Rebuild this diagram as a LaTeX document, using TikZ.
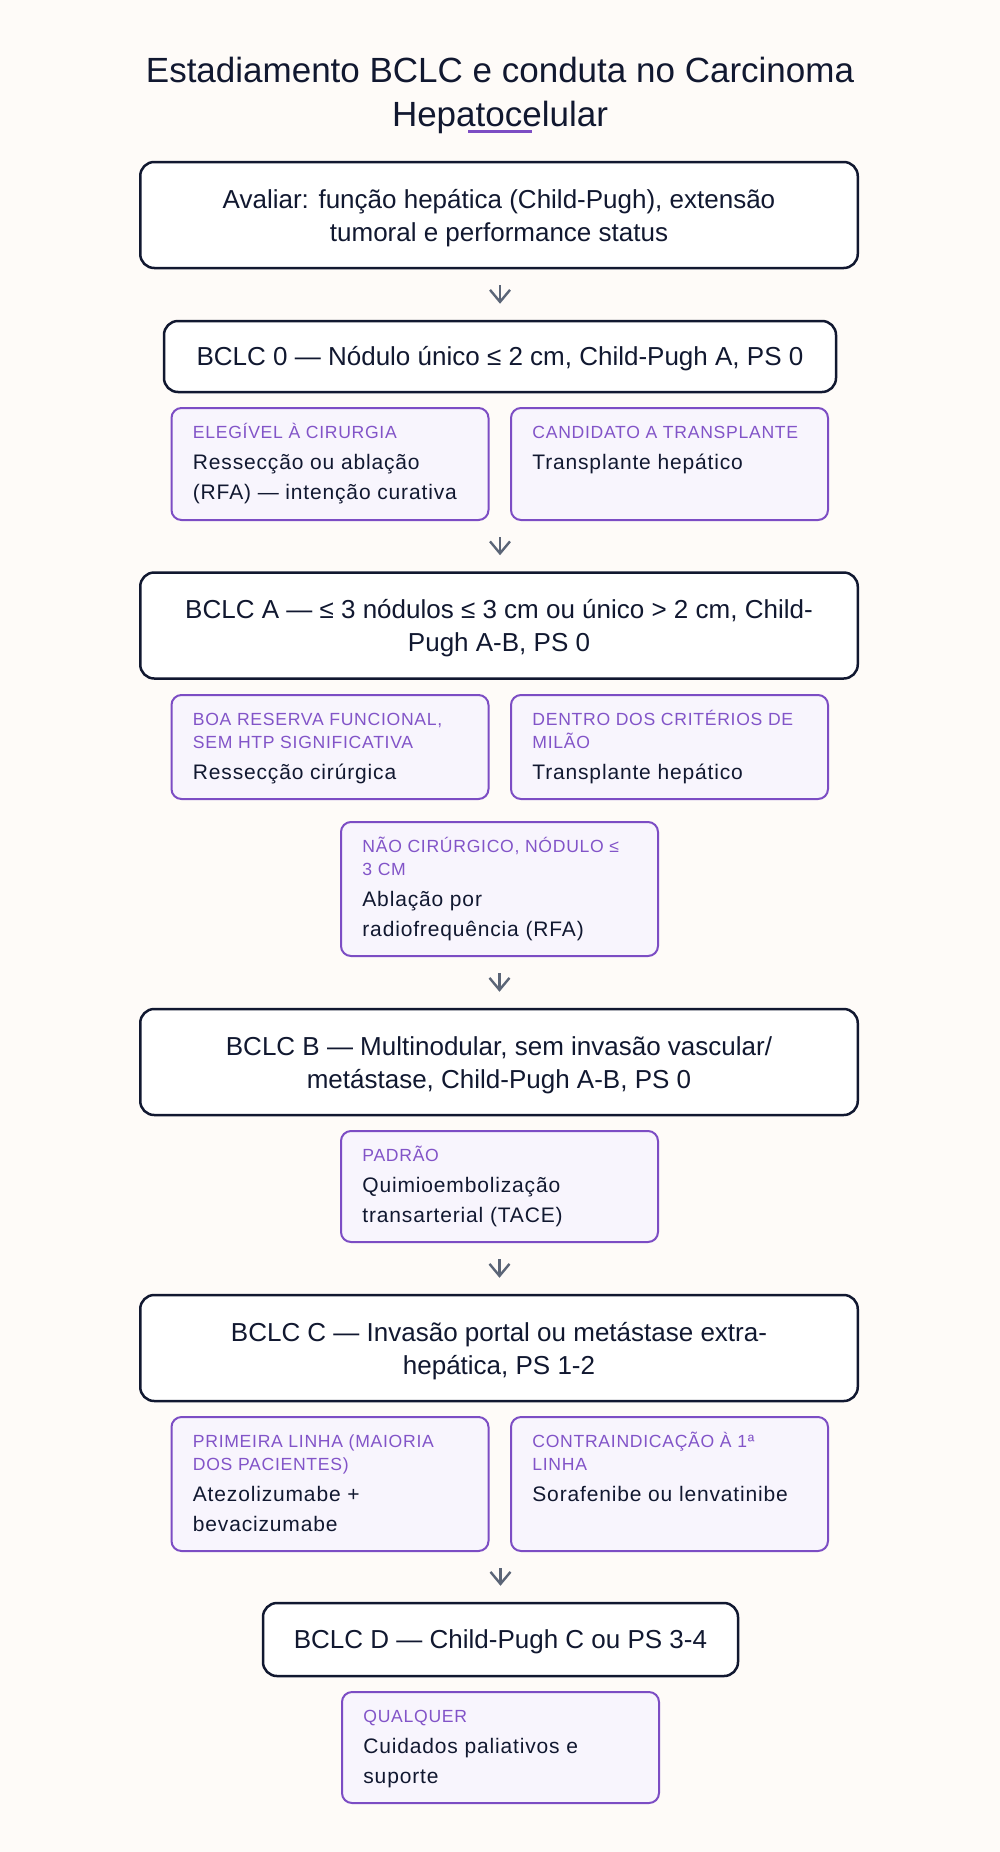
\documentclass[tikz,border=0pt]{standalone}
\usepackage{fontspec}
\setmainfont{Liberation Sans}
\newfontfamily\labelfamily{Liberation Sans}[LetterSpace=4]
\usetikzlibrary{arrows.meta}
\definecolor{bgc}{RGB}{254,251,248}
\definecolor{navy}{RGB}{17,24,48}
\definecolor{purp}{RGB}{124,77,196}
\definecolor{purptext}{RGB}{130,84,200}
\definecolor{lav}{RGB}{248,245,253}
\definecolor{agray}{RGB}{91,101,119}
\newcommand\mainfnt{\fontsize{13}{16.5}\selectfont}
\newcommand\lblfnt{\labelfamily\fontsize{8.8}{11.5}\selectfont\color{purptext}}
\newcommand\cntfnt{\fontsize{10.5}{14.75}\selectfont\color{navy}}
\newcommand\subtxt[2]{\parbox[t]{150pt}{\raggedright\leavevmode\lblfnt #1\par\vspace{0.75pt}\leavevmode\cntfnt #2\par}}
\tikzset{
  mainbox/.style={draw=navy, line width=1.25pt, fill=white, rounded corners=7pt,
    minimum width=358.75pt, minimum height=53pt, inner sep=0pt},
  maintext/.style={align=center, font=\mainfnt, text=navy, inner sep=0pt},
  subbox/.style={draw=purp, line width=1pt, fill=lav, rounded corners=5pt,
    minimum width=158.5pt, inner sep=0pt},
  subtext/.style={anchor=base west, inner sep=0pt},
  arr/.style={draw=agray, line width=1.2pt, -{Straight Barb[length=6pt,width=10pt]},
    shorten <=8pt, shorten >=8pt}
}
\begin{document}
\begin{tikzpicture}[x=0.5pt,y=-0.5pt]
\useasboundingbox (0,0) rectangle (1000,1852);
\fill[bgc] (0,0) rectangle (1000,1852);
% title
\node[anchor=base, inner sep=0pt, text=navy, font=\fontsize{17.5}{22}\selectfont] (title) at (500,82)
  {\parbox[t]{420pt}{\centering\leavevmode Estadiamento BCLC e conduta no Carcinoma\\Hepatocelular}};
\draw[purp, line width=1.5pt] (468,131) -- (532,131);
% main boxes
\node[mainbox] (b1) at (499,215) {};
\node[mainbox, minimum width=336pt, minimum height=35.5pt] (b0) at (500,356.5) {};
\node[mainbox] (bA) at (499,625.5) {};
\node[mainbox] (bB) at (499,1062) {};
\node[mainbox] (bC) at (499,1348) {};
\node[mainbox, minimum width=237.5pt, minimum height=36.5pt] (bD) at (500.5,1639.5) {};
\node[maintext] (b1t) at ([yshift=-1.5pt]b1.center) {Avaliar: função hepática (Child-Pugh), extensão\\tumoral e performance status};
\node[maintext] (b0t) at ([yshift=-1.2pt]b0.center) {BCLC 0 — Nódulo único ≤ 2 cm, Child-Pugh A, PS 0};
\node[maintext] (bAt) at ([yshift=-1.5pt]bA.center) {BCLC A — ≤ 3 nódulos ≤ 3 cm ou único > 2 cm, Child-\\Pugh A-B, PS 0};
\node[maintext] (bBt) at ([yshift=-1.5pt]bB.center) {BCLC B — Multinodular, sem invasão vascular/\\metástase, Child-Pugh A-B, PS 0};
\node[maintext] (bCt) at ([yshift=-1.5pt]bC.center) {BCLC C — Invasão portal ou metástase extra-\\hepática, PS 1-2};
\node[maintext] (bDt) at ([yshift=-1.2pt]bD.center) {BCLC D — Child-Pugh C ou PS 3-4};
% sub boxes
\node[subbox, minimum height=56pt] (s0l) at (330,464) {};
\node[subbox, minimum height=56pt] (s0r) at (669.5,464) {};
\node[subbox, minimum height=52pt] (sAl) at (330,747) {};
\node[subbox, minimum height=52pt] (sAr) at (669.5,747) {};
\node[subbox, minimum height=67pt] (sAc) at (499.5,889) {};
\node[subbox, minimum height=55.5pt] (sB) at (499.5,1186.5) {};
\node[subbox, minimum height=67pt] (sCl) at (330,1484) {};
\node[subbox, minimum height=67pt] (sCr) at (669.5,1484) {};
\node[subbox, minimum height=55.5pt] (sD) at (500.5,1747.5) {};
% sub texts
\node[subtext] (t0l) at ([xshift=11pt,yshift=-15.75pt]s0l.north west) {\subtxt{ELEGÍVEL À CIRURGIA}{Ressecção ou ablação\\(RFA) — intenção curativa}};
\node[subtext] (t0r) at ([xshift=11pt,yshift=-15.75pt]s0r.north west) {\subtxt{CANDIDATO A TRANSPLANTE}{Transplante hepático}};
\node[subtext] (tAl) at ([xshift=11pt,yshift=-15.75pt]sAl.north west) {\subtxt{BOA RESERVA FUNCIONAL,\\SEM HTP SIGNIFICATIVA}{Ressecção cirúrgica}};
\node[subtext] (tAr) at ([xshift=11pt,yshift=-15.75pt]sAr.north west) {\subtxt{DENTRO DOS CRITÉRIOS DE\\MILÃO}{Transplante hepático}};
\node[subtext] (tAc) at ([xshift=11pt,yshift=-15.75pt]sAc.north west) {\subtxt{NÃO CIRÚRGICO, NÓDULO ≤\\3 CM}{Ablação por\\radiofrequência (RFA)}};
\node[subtext] (tB) at ([xshift=11pt,yshift=-15.75pt]sB.north west) {\subtxt{PADRÃO}{Quimioembolização\\transarterial (TACE)}};
\node[subtext] (tCl) at ([xshift=11pt,yshift=-15.75pt]sCl.north west) {\subtxt{PRIMEIRA LINHA (MAIORIA\\DOS PACIENTES)}{Atezolizumabe +\\bevacizumabe}};
\node[subtext] (tCr) at ([xshift=11pt,yshift=-15.75pt]sCr.north west) {\subtxt{CONTRAINDICAÇÃO À 1ª\\LINHA}{Sorafenibe ou lenvatinibe}};
\node[subtext] (tD) at ([xshift=11pt,yshift=-15.75pt]sD.north west) {\subtxt{QUALQUER}{Cuidados paliativos e\\suporte}};
% arrows
\draw[arr] (b1.south -| b0.north) -- (b0.north);
\draw[arr] (b0.south |- s0l.south) -- (b0.south |- bA.north);
\draw[arr] (sAc.south) -- (sAc.south |- bB.north);
\draw[arr] (sB.south) -- (sB.south |- bC.north);
\draw[arr] (bD.north |- sCl.south) -- (bD.north);
\end{tikzpicture}
\end{document}
